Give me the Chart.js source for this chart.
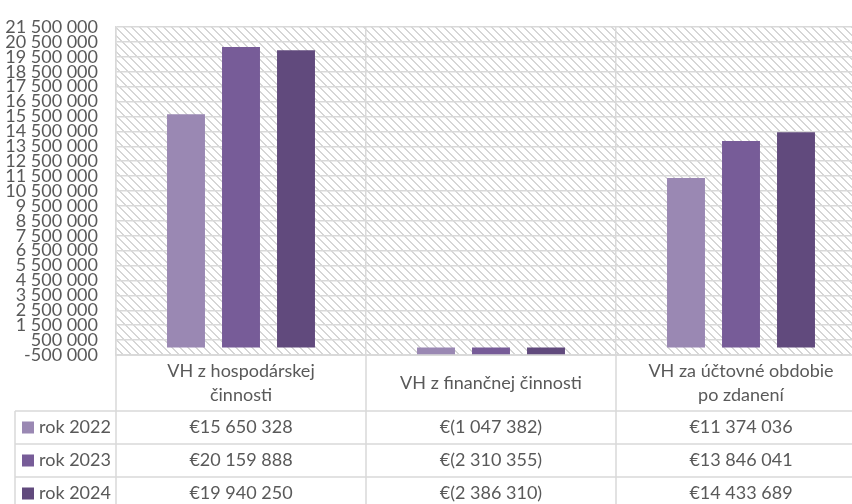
<!DOCTYPE html>
<html>
<head>
<meta charset="utf-8">
<script src="https://cdn.jsdelivr.net/npm/chart.js@4"></script>
<style>
html,body{margin:0;padding:0;background:#fff;overflow:hidden;width:852px;height:504px;}
#wrap{position:relative;width:866px;height:504px;}
</style>
</head>
<body>
<div id="wrap"><canvas id="c" width="866" height="504"></canvas></div>
<script>
// ---- data ----
const categories = [["VH z hospodárskej", "činnosti"], ["VH z finančnej činnosti"], ["VH za účtovné obdobie", "po zdanení"]];
const seriesNames = ["rok 2022", "rok 2023", "rok 2024"];
const values2022 = [15650328, -1047382, 11374036];
const values2023 = [20159888, -2310355, 13846041];
const values2024 = [19940250, -2386310, 14433689];
const yMin = -500000;
const yMax = 21500000;
const yStep = 1000000;

const seriesValues = [values2022, values2023, values2024];
const colors = ["#9a88b3", "#775c98", "#614a7d"];
const textColor = "#595959";
const lineColor = "#d9d9d9";
const FONT = "Lato, 'Noto Sans', sans-serif";

function fmtNum(v) {
  const s = Math.abs(Math.round(v)).toString().replace(/\B(?=(\d{3})+(?!\d))/g, " ");
  return (v < 0 ? "-" : "") + s;
}
function fmtEur(v) {
  const s = Math.abs(Math.round(v)).toString().replace(/\B(?=(\d{3})+(?!\d))/g, " ");
  return v < 0 ? "€(" + s + ")" : "€" + s;
}

// hatch pattern
const pc = document.createElement('canvas');
pc.width = 8; pc.height = 8;
const pctx = pc.getContext('2d');
pctx.fillStyle = '#ffffff'; pctx.fillRect(0,0,8,8);
pctx.fillStyle = '#d6d6d6';
for (let i = 0; i < 8; i++) { pctx.fillRect(i, i, 1, 1); pctx.fillRect((i + 1) % 8, i, 1, 1); }

const bgPlugin = {
  id: 'hatchBg',
  beforeDraw(chart) {
    const {ctx, chartArea: a} = chart;
    ctx.save();
    ctx.fillStyle = ctx.createPattern(pc, 'repeat');
    ctx.fillRect(a.left, a.top, a.right - a.left, a.bottom - a.top);
    ctx.restore();
  }
};

const PLOT_BOTTOM = 355;
const HEADER_BOTTOM = 411;
const ROW_H = 33;
const TABLE_LEFT = 15;

const tablePlugin = {
  id: 'dataTable',
  afterDraw(chart) {
    const {ctx, chartArea: a} = chart;
    const xs = chart.scales.x;
    const H = chart.height;
    ctx.save();
    ctx.strokeStyle = lineColor;
    ctx.lineWidth = 1.5;
    const n = categories.length;
    const w = xs.getPixelForValue(1) - xs.getPixelForValue(0);
    ctx.beginPath();
    for (let i = 0; i <= n; i++) {
      const p = xs.getPixelForValue(0) - w / 2 + i * w;
      ctx.moveTo(p, a.bottom); ctx.lineTo(p, H);
    }
    ctx.moveTo(TABLE_LEFT, HEADER_BOTTOM); ctx.lineTo(TABLE_LEFT, H);
    ctx.moveTo(a.left, a.bottom); ctx.lineTo(a.right, a.bottom);
    for (let r = 0; r < seriesNames.length; r++) {
      const y = HEADER_BOTTOM + r * ROW_H;
      ctx.moveTo(TABLE_LEFT, y); ctx.lineTo(a.right, y);
    }
    ctx.stroke();

    ctx.fillStyle = textColor;
    ctx.font = "18px " + FONT;
    ctx.textAlign = 'center';
    ctx.textBaseline = 'middle';
    const hMid = (a.bottom + HEADER_BOTTOM) / 2;
    const lh = 24;
    categories.forEach((lab, i) => {
      const x = xs.getPixelForValue(i);
      const lines = Array.isArray(lab) ? lab : [lab];
      const start = hMid - (lines.length - 1) * lh / 2;
      lines.forEach((t, k) => ctx.fillText(t, x, start + k * lh));
    });

    seriesNames.forEach((name, r) => {
      const yc = HEADER_BOTTOM + r * ROW_H + ROW_H / 2;
      ctx.fillStyle = colors[r];
      ctx.fillRect(22, yc - 6, 12, 12);
      ctx.fillStyle = textColor;
      ctx.textAlign = 'left';
      ctx.fillText(name, 39, yc);
      ctx.textAlign = 'center';
      seriesValues[r].forEach((v, i) => ctx.fillText(fmtEur(v), xs.getPixelForValue(i), yc));
    });
    ctx.restore();
  }
};

new Chart(document.getElementById('c'), {
  type: 'bar',
  data: {
    labels: categories,
    datasets: seriesNames.map((name, i) => ({
      label: name,
      data: seriesValues[i],
      backgroundColor: colors[i],
      borderWidth: 0,
      categoryPercentage: 0.66,
      barPercentage: 0.69
    }))
  },
  options: {
    responsive: false,
    devicePixelRatio: 1,
    animation: false,
    layout: { padding: { top: 22, left: 0, right: 0, bottom: 504 - HEADER_BOTTOM } },
    plugins: { legend: { display: false }, tooltip: { enabled: false } },
    scales: {
      x: {
        grid: { display: true, offset: true, color: lineColor, lineWidth: 1.5, drawTicks: false },
        border: { display: true, color: lineColor, width: 1.5 },
        ticks: { display: false },
        afterFit(scale) { scale.height = HEADER_BOTTOM - PLOT_BOTTOM; }
      },
      y: {
        min: yMin,
        max: yMax,
        grid: { color: lineColor, lineWidth: 1.5, drawTicks: false },
        border: { display: true, color: lineColor, width: 1.5 },
        ticks: {
          stepSize: yStep,
          autoSkip: false,
          padding: 18,
          color: textColor,
          font: { family: FONT, size: 18, lineHeight: 1 },
          callback: v => fmtNum(v)
        },
        afterFit(scale) { scale.width = 116; }
      }
    }
  },
  plugins: [bgPlugin, tablePlugin]
});
</script>
</body>
</html>
